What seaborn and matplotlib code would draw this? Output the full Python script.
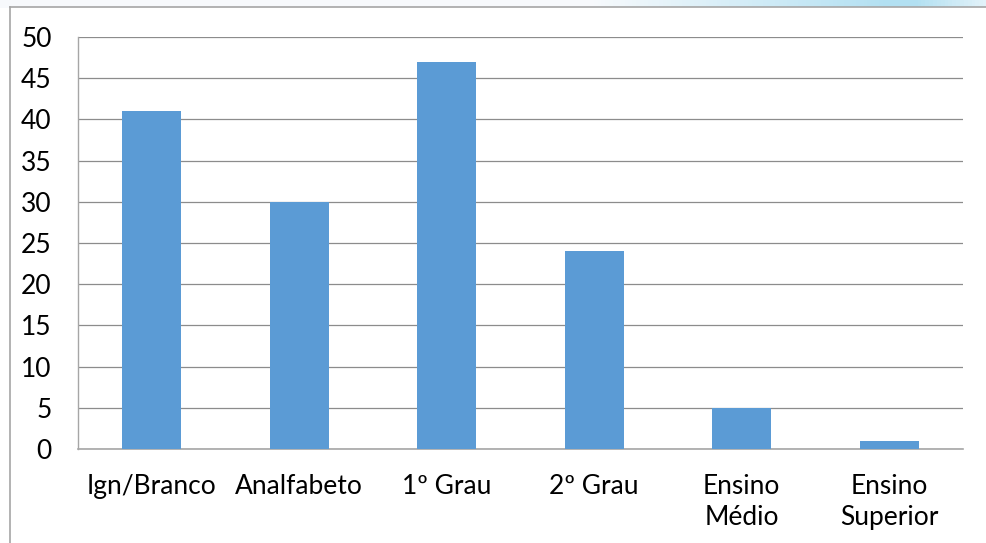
import matplotlib
matplotlib.use("Agg")
import matplotlib.pyplot as plt
import numpy as np
import pandas as pd
import seaborn as sns

categorias = ["Ign/Branco", "Analfabeto", "1º Grau", "2º Grau", "Ensino\nMédio", "Ensino\nSuperior"]
casos = [41, 30, 47, 24, 5, 1]
y_ticks = [0, 5, 10, 15, 20, 25, 30, 35, 40, 45, 50]

df = pd.DataFrame({"escolaridade": categorias, "casos": casos})

sns.set_theme(style="white")
plt.rcParams["font.family"] = ["Lato", "DejaVu Sans"]

W, H = 987, 543
fig = plt.figure(figsize=(W / 100, H / 100), dpi=100)
fig.patch.set_facecolor("white")

# light blue band along the top edge, behind the chart frame
grad = np.linspace(0, 1, 256)
band = np.zeros((1, 256, 3))
c0 = np.array([0.97, 0.98, 0.99])
c1 = np.array([0.70, 0.88, 0.95])
w = np.clip((grad - 0.6) / 0.3, 0, 1) * np.clip((1.0 - grad) / 0.1 + 0.3, 0, 1)
band[0] = c0[None, :] * (1 - w[:, None]) + c1[None, :] * w[:, None]
bax = fig.add_axes([0, 1 - 8 / H, 1, 8 / H], zorder=0)
bax.imshow(band, aspect="auto", extent=[0, 1, 0, 1])
bax.axis("off")

# chart frame
frame = fig.add_axes([10 / W, -0.05, 1.0, (H - 7) / H + 0.05], zorder=1)
frame.set_xticks([])
frame.set_yticks([])
frame.set_facecolor("white")
for s in frame.spines.values():
    s.set_color("#a6a6a6")
    s.set_linewidth(1.2)

ax = fig.add_axes([78 / W, (H - 449) / H, (963 - 78) / W, (449 - 37) / H], zorder=2)
ax.set_facecolor("none")
sns.barplot(data=df, x="escolaridade", y="casos", color="#5b9bd5", saturation=1,
            width=0.4, linewidth=0, ax=ax, zorder=3)

ax.set_ylim(0, 50)
ax.set_xlim(-0.5, len(categorias) - 0.5)
ax.set_yticks(y_ticks)
ax.yaxis.grid(True, color="#8c8c8c", linewidth=0.9)
ax.set_axisbelow(True)
for s in ["top", "right"]:
    ax.spines[s].set_visible(False)
ax.spines["left"].set_color("#a6a6a6")
ax.spines["bottom"].set_color("#a6a6a6")
ax.spines["left"].set_linewidth(1.0)
ax.spines["bottom"].set_linewidth(1.2)
ax.tick_params(axis="both", length=0, labelsize=19, colors="black")
ax.tick_params(axis="y", pad=19)
ax.tick_params(axis="x", pad=18)
ax.set_xlabel("")
ax.set_ylabel("")
for t in ax.get_xticklabels():
    t.set_horizontalalignment("center")
    t.set_multialignment("center")
    t.set_linespacing(1.3)

fig.savefig("out.png", dpi=100)
